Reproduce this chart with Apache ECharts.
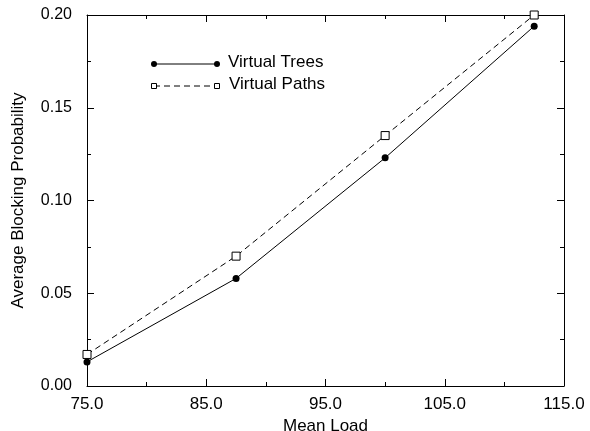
<!DOCTYPE html>
<html>
<head>
<meta charset="utf-8">
<script src="https://cdn.jsdelivr.net/npm/echarts@6/dist/echarts.min.js"></script>
<style>
html, body { margin: 0; padding: 0; background: #fff; }
#chart { width: 590px; height: 431px; }
</style>
</head>
<body>
<div id="chart"></div>
<script>
const meanLoad = [75, 87.5, 100, 112.5];
const virtualTrees = [0.013, 0.058, 0.123, 0.194];
const virtualPaths = [0.017, 0.070, 0.135, 0.200];
const seriesNames = ["Virtual Trees", "Virtual Paths"];

const font = "Liberation Sans, Arial, Helvetica, sans-serif";
const chart = echarts.init(document.getElementById("chart"));

function pairs(xs, ys) {
	return xs.map((x, i) => [x, ys[i]]);
}

const axisLine = { show: true, onZero: false, lineStyle: { color: "#000", width: 1 } };
const tickIn = { show: true, inside: true, length: 7, lineStyle: { color: "#000" } };
const minorIn = { show: true, splitNumber: 2, length: 4, lineStyle: { color: "#000" } };

const option = {
	animation: false,
	backgroundColor: "#fff",
	grid: { left: 87, right: 26, top: 15, bottom: 45, containLabel: false, outerBoundsMode: "none" },
	xAxis: [
		{
			type: "value", min: 75, max: 115, interval: 10,
			name: "Mean Load", nameLocation: "middle", nameGap: 29,
			nameTextStyle: { fontFamily: font, fontSize: 17, color: "#000" },
			axisLine: axisLine, axisTick: tickIn, minorTick: minorIn,
			axisLabel: { fontFamily: font, fontSize: 17, color: "#000", margin: 10,
				formatter: v => v.toFixed(1) },
			splitLine: { show: false }
		},
		{
			type: "value", position: "top", min: 75, max: 115, interval: 10,
			axisLine: axisLine, axisTick: tickIn, minorTick: minorIn,
			axisLabel: { show: false }, splitLine: { show: false }
		}
	],
	yAxis: [
		{
			type: "value", min: 0, max: 0.2, interval: 0.05,
			name: "Average Blocking Probability", nameLocation: "middle", nameGap: 60,
			nameTextStyle: { fontFamily: font, fontSize: 17, color: "#000" },
			axisLine: axisLine, axisTick: tickIn, minorTick: minorIn,
			axisLabel: { fontFamily: font, fontSize: 16, color: "#000", margin: 15,
				formatter: v => v.toFixed(2) },
			splitLine: { show: false }
		},
		{
			type: "value", position: "right", min: 0, max: 0.2, interval: 0.05,
			axisLine: axisLine, axisTick: tickIn, minorTick: minorIn,
			axisLabel: { show: false }, splitLine: { show: false }
		}
	],
	series: [
		{
			name: seriesNames[0], type: "line",
			data: pairs(meanLoad, virtualTrees),
			symbol: "circle", symbolSize: 7,
			lineStyle: { color: "#000", width: 1 },
			itemStyle: { color: "#000" }
		},
		{
			name: seriesNames[1], type: "line",
			data: pairs(meanLoad, virtualPaths),
			symbol: "rect", symbolSize: 8,
			lineStyle: { color: "#000", width: 1, type: [6, 4] },
			itemStyle: { color: "#fff", borderColor: "#000", borderWidth: 1 },
			z: 3
		}
	],
	graphic: [
		{ type: "line", shape: { x1: 154, y1: 64, x2: 217, y2: 64 }, style: { stroke: "#000", lineWidth: 1 } },
		{ type: "circle", shape: { cx: 154, cy: 64, r: 3 }, style: { fill: "#000" } },
		{ type: "circle", shape: { cx: 217, cy: 64, r: 3 }, style: { fill: "#000" } },
		{ type: "text", left: 228, top: 54, style: { text: seriesNames[0], font: "17px " + font, fill: "#000" } },
		{ type: "line", shape: { x1: 154, y1: 86, x2: 217, y2: 86 }, style: { stroke: "#000", lineWidth: 1, lineDash: [6, 4] } },
		{ type: "rect", shape: { x: 151.5, y: 83.5, width: 5, height: 5 }, style: { fill: "#fff", stroke: "#000" } },
		{ type: "rect", shape: { x: 214.5, y: 83.5, width: 5, height: 5 }, style: { fill: "#fff", stroke: "#000" } },
		{ type: "text", left: 229, top: 76, style: { text: seriesNames[1], font: "17px " + font, fill: "#000" } }
	]
};

chart.setOption(option);
</script>
</body>
</html>
